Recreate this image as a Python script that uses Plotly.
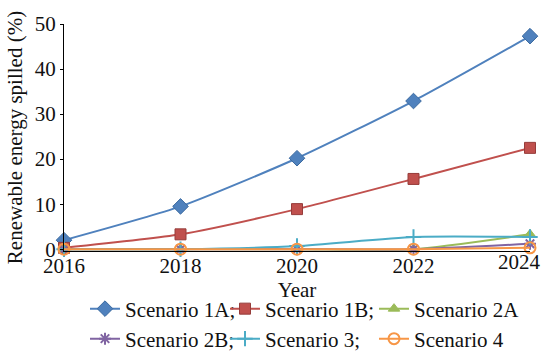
import plotly.graph_objects as go

# Renewable energy spilled (%) by scenario, 2016-2024
years = [2016, 2018, 2020, 2022, 2024]
s1a = [2.0, 9.5, 20.2, 32.9, 47.3]
s1b = [0.3, 3.3, 8.9, 15.6, 22.5]
s2a = [0.0, 0.0, 0.0, 0.0, 3.3]
s2b = [0.0, 0.0, 0.0, 0.0, 1.2]
s3 = [0.0, 0.0, 0.7, 2.7, 2.7]
s4 = [0.0, 0.0, 0.0, 0.0, 0.3]
names = ["Scenario 1A;", "Scenario 1B;", "Scenario 2A",
         "Scenario 2B;", "Scenario 3;", "Scenario 4"]
y_ticks = [0, 10, 20, 30, 40, 50]
x_ticks = [2016, 2018, 2020, 2022, 2024]

FONT = "Liberation Serif"
INK = "#111111"

# plot-area geometry in pixels
W, H = 545, 353
L, R, T, B = 64, 15, 24, 102
PW, PH = W - L - R, H - T - B

styles = [
    dict(color="#4F81BD", symbol="diamond", size=12, fill="#4F81BD", edge="#3B6AA0", ew=1),
    dict(color="#C0504D", symbol="square", size=11, fill="#C0504D", edge="#963C3A", ew=1),
    dict(color="#9BBB59", symbol="triangle-up", size=10, fill="#9BBB59", edge="#9BBB59", ew=1),
    dict(color="#8064A2", symbol="asterisk-open", size=10, fill="#8064A2", edge="#8064A2", ew=2),
    dict(color="#4BACC6", symbol="cross-thin-open", size=11, fill="#4BACC6", edge="#4BACC6", ew=2),
    dict(color="#F79646", symbol="circle-open", size=11, fill="#F79646", edge="#F79646", ew=2),
]
series = [s1a, s1b, s2a, s2b, s3, s4]

# one legend box per entry, laid out as two rows of three
legend_left_px = [85, 225, 374, 85, 225, 374]
legend_row_px = [309, 309, 309, 339, 339, 339]

fig = go.Figure()
legend_layouts = {}
for i, (vals, name, st) in enumerate(zip(series, names, styles)):
    key = "legend" if i == 0 else f"legend{i + 1}"
    fig.add_trace(go.Scatter(
        x=years, y=vals, name=name, mode="lines+markers",
        line=dict(color=st["color"], width=2, shape="spline", smoothing=0.6),
        marker=dict(symbol=st["symbol"], size=st["size"], color=st["fill"],
                    line=dict(color=st["edge"], width=st["ew"])),
        cliponaxis=False,
        legend=key,
        # the top-most series lives on the overlaid x axis (same scale as x)
        xaxis="x2" if i == len(series) - 1 else "x",
    ))
    legend_layouts[key] = dict(
        x=(legend_left_px[i] - L) / PW,
        y=(H - B - legend_row_px[i]) / PH,
        xanchor="left", yanchor="middle", orientation="h",
        font=dict(family=FONT, size=21, color=INK),
        itemwidth=30, bgcolor="rgba(0,0,0,0)", borderwidth=0,
        itemclick=False, itemdoubleclick=False,
    )

tick_font = dict(family=FONT, size=21, color=INK)

fig.update_layout(
    width=W, height=H,
    margin=dict(l=L, r=R, t=T, b=B, autoexpand=False),
    paper_bgcolor="white", plot_bgcolor="white",
    font=dict(family=FONT, size=21, color=INK),
    showlegend=True,
    **legend_layouts,
    xaxis=dict(
        range=[2016, 2024], tickvals=x_ticks[:-1], ticktext=[str(v) for v in x_ticks[:-1]],
        showgrid=False, zeroline=False, showline=True, linecolor="black", linewidth=1,
        ticks="", ticklen=0, ticklabelstandoff=-4, tickfont=tick_font,
        title=dict(text="Year", font=dict(family=FONT, size=21, color=INK), standoff=0),
        automargin=False,
    ),
    # the last year label sits on an overlaid axis so it can be shifted inside the figure
    xaxis2=dict(
        overlaying="x", matches="x", anchor="y", side="bottom",
        range=[2016, 2024],
        tickvals=x_ticks[-1:], ticktext=[str(x_ticks[-1])],
        showgrid=False, zeroline=False, showline=False,
        ticks="", ticklen=0, ticklabelstandoff=-4, ticklabelshift=-11,
        tickfont=tick_font, automargin=False,
    ),
    yaxis=dict(
        range=[-0.4, 50], tickvals=y_ticks, showgrid=False, zeroline=False,
        showline=True, linecolor="black", linewidth=1,
        ticks="outside", ticklen=3, tickcolor="black",
        tickfont=tick_font,
        title=dict(text="Renewable energy spilled (%)",
                   font=dict(family=FONT, size=21, color=INK), standoff=6),
        automargin=False,
    ),
)

fig.write_html("out.html")
